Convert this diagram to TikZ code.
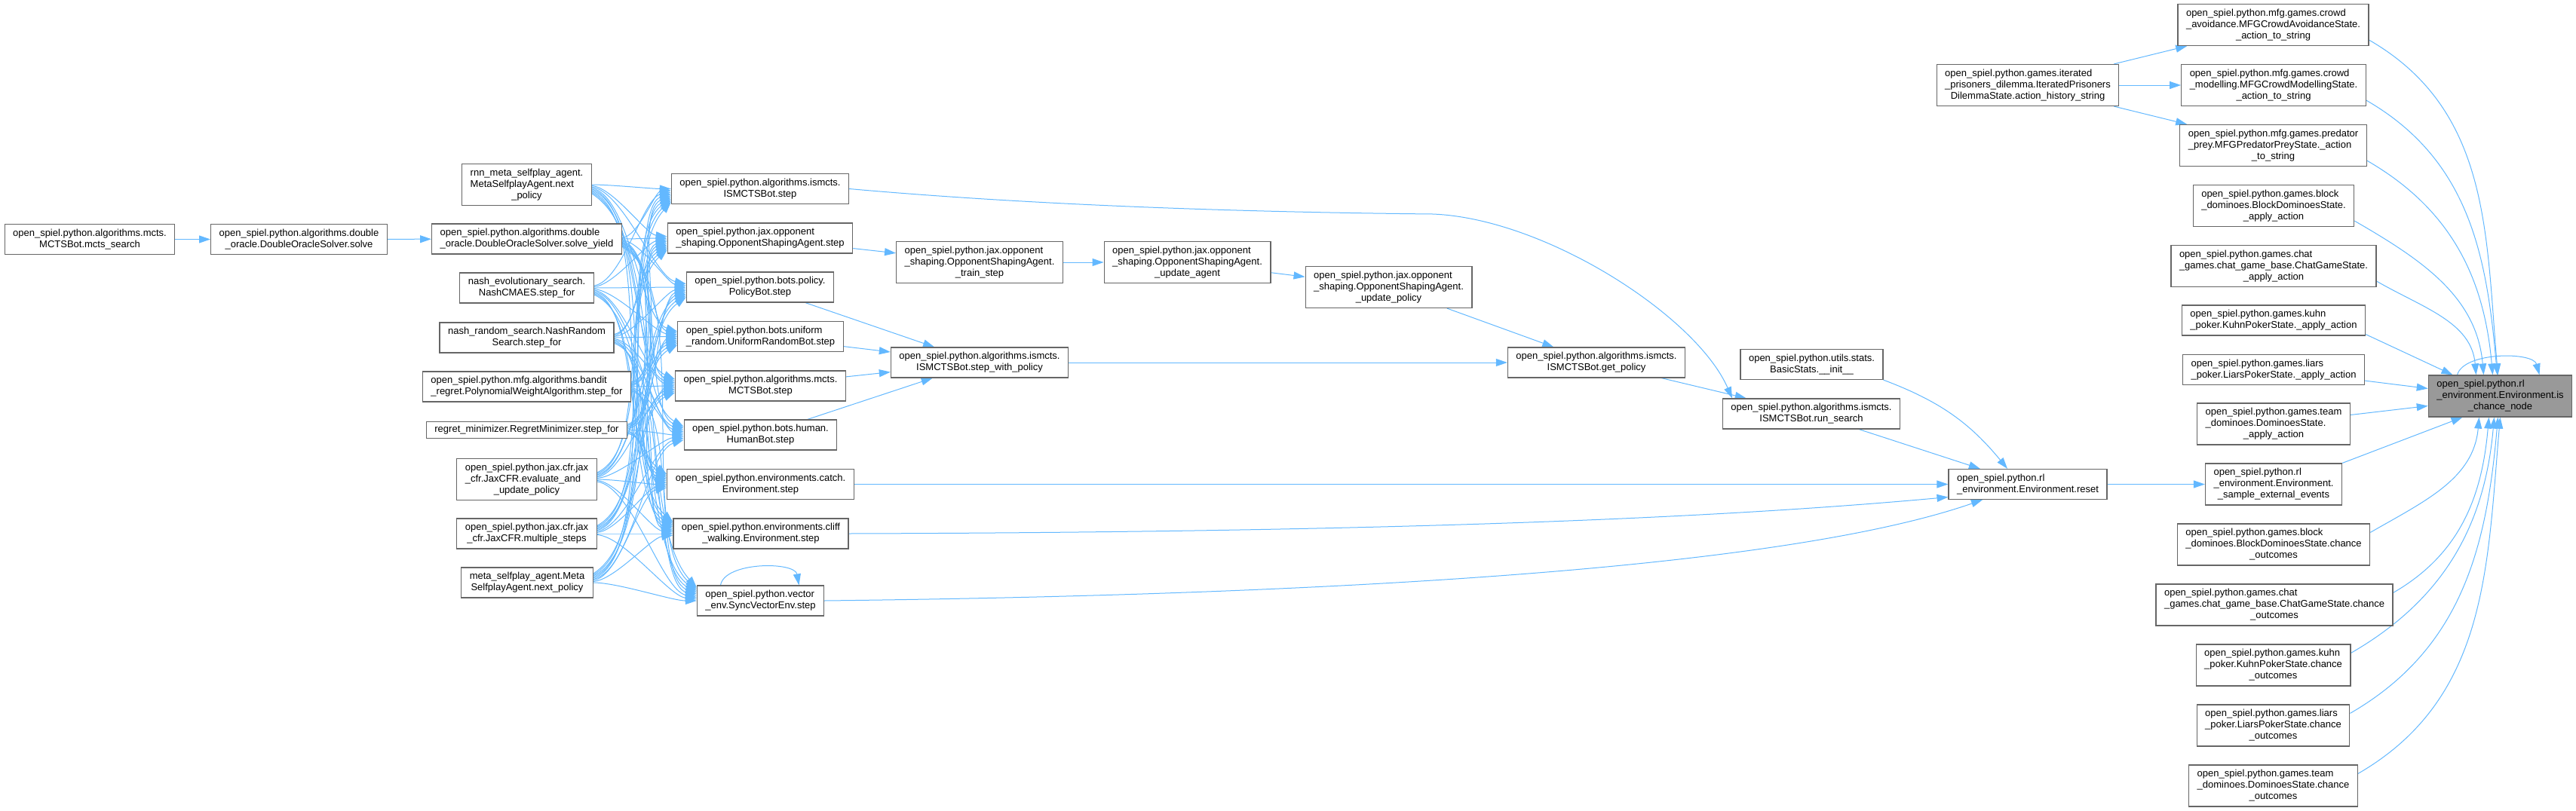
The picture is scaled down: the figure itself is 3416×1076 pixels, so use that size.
\documentclass[tikz,border=0pt]{standalone}
\usepackage{fontspec}
\setmainfont{Liberation Sans}
\usetikzlibrary{arrows.meta,backgrounds}
\definecolor{cgEdge}{HTML}{63B8FF}
\definecolor{cgBorder}{HTML}{666666}
\definecolor{cgFocus}{HTML}{999999}
\newcommand{\cgfont}{\fontsize{13}{15}\selectfont}
\newcommand{\twoln}[2]{\begin{tabular}{@{}l@{}}#1\\\multicolumn{1}{@{}c@{}}{#2}\end{tabular}}
\newcommand{\threeln}[3]{\begin{tabular}{@{}l@{}}#1\\#2\\\multicolumn{1}{@{}c@{}}{#3}\end{tabular}}
\tikzset{
  cg box/.style={draw=cgBorder, fill=white, line width=1.2pt, inner xsep=11pt, inner ysep=5pt, font=\cgfont},
  cg focus/.style={cg box, fill=cgFocus},
  cg edge/.style={draw=cgEdge, line width=1pt, -{Triangle[length=15pt,width=10pt]}},
}

\begin{document}
\begin{tikzpicture}[x=1pt,y=1pt]
  \useasboundingbox (0,0) rectangle (3416,-1076);
  \node[cg box] (mctssearch) at (119,-317.5) {\twoln{open\_spiel.python.algorithms.mcts.}{MCTSBot.mcts\_search}};
  \node[cg box] (solve) at (396.5,-317.5) {\twoln{open\_spiel.python.algorithms.double}{\_oracle.DoubleOracleSolver.solve}};
  \node[cg box] (rnn) at (698.5,-245) {\threeln{rnn\_meta\_selfplay\_agent.}{MetaSelfplayAgent.next}{\_policy}};
  \node[cg box] (yield) at (698.5,-317) {\twoln{open\_spiel.python.algorithms.double}{\_oracle.DoubleOracleSolver.solve\_yield}};
  \node[cg box] (nevo) at (698.5,-382) {\twoln{nash\_evolutionary\_search.}{NashCMAES.step\_for}};
  \node[cg box] (nrand) at (698.5,-448) {\twoln{nash\_random\_search.NashRandom}{Search.step\_for}};
  \node[cg box] (bandit) at (698.5,-513) {\twoln{open\_spiel.python.mfg.algorithms.bandit}{\_regret.PolynomialWeightAlgorithm.step\_for}};
  \node[cg box] (regret) at (698.5,-570.5) {regret\_minimizer.RegretMinimizer.step\_for};
  \node[cg box] (evalup) at (698.5,-636) {\threeln{open\_spiel.python.jax.cfr.jax}{\_cfr.JaxCFR.evaluate\_and}{\_update\_policy}};
  \node[cg box] (msteps) at (698.5,-708) {\twoln{open\_spiel.python.jax.cfr.jax}{\_cfr.JaxCFR.multiple\_steps}};
  \node[cg box] (meta) at (699,-773) {\twoln{meta\_selfplay\_agent.Meta}{SelfplayAgent.next\_policy}};
  \node[cg box] (ismstep) at (1008,-250.5) {\twoln{open\_spiel.python.algorithms.ismcts.}{ISMCTSBot.step}};
  \node[cg box] (osastep) at (1008,-316) {\twoln{open\_spiel.python.jax.opponent}{\_shaping.OpponentShapingAgent.step}};
  \node[cg box] (pbstep) at (1008,-381) {\twoln{open\_spiel.python.bots.policy.}{PolicyBot.step}};
  \node[cg box] (urstep) at (1008.5,-446.5) {\twoln{open\_spiel.python.bots.uniform}{\_random.UniformRandomBot.step}};
  \node[cg box] (mctsstep) at (1008.5,-512) {\twoln{open\_spiel.python.algorithms.mcts.}{MCTSBot.step}};
  \node[cg box] (hbstep) at (1008.5,-577) {\twoln{open\_spiel.python.bots.human.}{HumanBot.step}};
  \node[cg box] (catchstep) at (1008.5,-642.5) {\twoln{open\_spiel.python.environments.catch.}{Environment.step}};
  \node[cg box] (cliffstep) at (1009,-708) {\twoln{open\_spiel.python.environments.cliff}{\_walking.Environment.step}};
  \node[cg box] (svstep) at (1008.5,-797) {\twoln{open\_spiel.python.vector}{\_env.SyncVectorEnv.step}};
  \node[cg box] (trainstep) at (1299,-348) {\threeln{open\_spiel.python.jax.opponent}{\_shaping.OpponentShapingAgent.}{\_train\_step}};
  \node[cg box] (swp) at (1299,-481) {\twoln{open\_spiel.python.algorithms.ismcts.}{ISMCTSBot.step\_with\_policy}};
  \node[cg box] (updagent) at (1574.5,-348) {\threeln{open\_spiel.python.jax.opponent}{\_shaping.OpponentShapingAgent.}{\_update\_agent}};
  \node[cg box] (updpolicy) at (1841.5,-381) {\threeln{open\_spiel.python.jax.opponent}{\_shaping.OpponentShapingAgent.}{\_update\_policy}};
  \node[cg box] (getpol) at (2117,-481) {\twoln{open\_spiel.python.algorithms.ismcts.}{ISMCTSBot.get\_policy}};
  \node[cg box] (basicstats) at (2402.5,-483.5) {\twoln{open\_spiel.python.utils.stats.}{BasicStats.\_\_init\_\_}};
  \node[cg box] (runsearch) at (2402,-549) {\twoln{open\_spiel.python.algorithms.ismcts.}{ISMCTSBot.run\_search}};
  \node[cg box] (ipd) at (2689,-113) {\threeln{open\_spiel.python.games.iterated}{\_prisoners\_dilemma.IteratedPrisoners}{DilemmaState.action\_history\_string}};
  \node[cg box] (reset) at (2689,-642.5) {\twoln{open\_spiel.python.rl}{\_environment.Environment.reset}};
  \node[cg box] (crowdav) at (3014.5,-33) {\threeln{open\_spiel.python.mfg.games.crowd}{\_avoidance.MFGCrowdAvoidanceState.}{\_action\_to\_string}};
  \node[cg box] (crowdmod) at (3015,-113) {\threeln{open\_spiel.python.mfg.games.crowd}{\_modelling.MFGCrowdModellingState.}{\_action\_to\_string}};
  \node[cg box] (predprey) at (3014.5,-193) {\threeln{open\_spiel.python.mfg.games.predator}{\_prey.MFGPredatorPreyState.\_action}{\_to\_string}};
  \node[cg box] (blockapply) at (3015,-273) {\threeln{open\_spiel.python.games.block}{\_dominoes.BlockDominoesState.}{\_apply\_action}};
  \node[cg box] (chatapply) at (3015,-353) {\threeln{open\_spiel.python.games.chat}{\_games.chat\_game\_base.ChatGameState.}{\_apply\_action}};
  \node[cg box] (kuhnapply) at (3015,-425) {\twoln{open\_spiel.python.games.kuhn}{\_poker.KuhnPokerState.\_apply\_action}};
  \node[cg box] (liarsapply) at (3015,-490.5) {\twoln{open\_spiel.python.games.liars}{\_poker.LiarsPokerState.\_apply\_action}};
  \node[cg box] (teamapply) at (3015,-562.5) {\threeln{open\_spiel.python.games.team}{\_dominoes.DominoesState.}{\_apply\_action}};
  \node[cg box] (sampleext) at (3015,-642.5) {\threeln{open\_spiel.python.rl}{\_environment.Environment.}{\_sample\_external\_events}};
  \node[cg box] (blockchance) at (3015,-722.5) {\threeln{open\_spiel.python.games.block}{\_dominoes.BlockDominoesState.chance}{\_outcomes}};
  \node[cg box] (chatchance) at (3016,-802.5) {\threeln{open\_spiel.python.games.chat}{\_games.chat\_game\_base.ChatGameState.chance}{\_outcomes}};
  \node[cg box] (kuhnchance) at (3014.5,-882.5) {\threeln{open\_spiel.python.games.kuhn}{\_poker.KuhnPokerState.chance}{\_outcomes}};
  \node[cg box] (liarschance) at (3014.5,-962.5) {\threeln{open\_spiel.python.games.liars}{\_poker.LiarsPokerState.chance}{\_outcomes}};
  \node[cg box] (teamchance) at (3014.5,-1042.5) {\threeln{open\_spiel.python.games.team}{\_dominoes.DominoesState.chance}{\_outcomes}};
  \node[cg focus] (ischance) at (3315.5,-525.5) {\threeln{open\_spiel.python.rl}{\_environment.Environment.is}{\_chance\_node}};

  \begin{scope}[on background layer]
  \draw[cg edge] (mctssearch) -- (solve);
  \draw[cg edge] (solve) -- (yield);
  \foreach \a [count=\i] in {rnn,yield,nevo,nrand,bandit,regret,evalup,msteps,meta}
    \foreach \b [count=\j] in {ismstep,osastep,pbstep,urstep,mctsstep,hbstep,catchstep,cliffstep,svstep}
      \draw[cg edge] ([yshift={(\i-\j)*1.5}]\a.east) to[out={(\i-\j)*4},in={180-(\j-\i)*6},looseness=0.6] ([yshift={(\j-\i)*2.2}]\b.west);
  \draw[cg edge] ([xshift=-53pt]svstep.north) .. controls +(80:32) and +(100:32) .. ([xshift=51pt]svstep.north);
  \draw[cg edge] (osastep) -- (trainstep);
  \foreach \a in {pbstep,urstep,mctsstep,hbstep}
    \draw[cg edge] (\a) -- (swp);
  \draw[cg edge] (trainstep) -- (updagent);
  \draw[cg edge] (updagent) -- (updpolicy);
  \draw[cg edge] (updpolicy) -- (getpol);
  \draw[cg edge] (swp) -- (getpol);
  \draw[cg edge] (getpol) -- (runsearch);
  \draw[cg edge] (ismstep.east) .. controls (1400,-275) and (1700,-282) .. (1900,-284) .. controls (2050,-290) and (2250,-420) .. ([xshift=-105pt]runsearch.north);
  \draw[cg edge] (basicstats.south east) to[bend left=15] ([xshift=-27pt]reset.north);
  \draw[cg edge] (runsearch) -- (reset);
  \draw[cg edge] (catchstep) -- (reset);
  \draw[cg edge] (cliffstep.east) .. controls (1800,-706) and (2250,-690) .. ([yshift=-17pt]reset.west);
  \draw[cg edge] (svstep.east) .. controls (1700,-790) and (2350,-760) .. ([xshift=-60pt]reset.south);
  \draw[cg edge] (reset) -- (sampleext);
  \foreach \a in {crowdav,crowdmod,predprey}
    \draw[cg edge] (ipd) -- (\a);
  \foreach \a/\s in {crowdav/-3,crowdmod/-4,predprey/-10,blockapply/-22,chatapply/-32}
    \draw[cg edge] ([yshift=8pt]\a.south east) to[out=-30,in=95] ([xshift=\s pt]ischance.north);
  \draw[cg edge] ([yshift=2pt]kuhnapply.south east) -- ([xshift=-63pt]ischance.north);
  \draw[cg edge] ([yshift=6pt]liarsapply.south east) -- ([yshift=10pt]ischance.west);
  \draw[cg edge] ([yshift=12pt]teamapply.east) -- ([yshift=-13pt]ischance.west);
  \draw[cg edge] (sampleext.north east) -- ([xshift=-50pt]ischance.south);
  \foreach \a/\s in {blockchance/-28,chatchance/-15,kuhnchance/-8,liarschance/-3,teamchance/0}
    \draw[cg edge] ([yshift=-12pt]\a.north east) to[out=30,in=-95] ([xshift=\s pt]ischance.south);
  \draw[cg edge] ([xshift=-57pt]ischance.north) .. controls +(75:32) and +(105:32) .. ([xshift=52pt]ischance.north);
  \end{scope}
\end{tikzpicture}
\end{document}
